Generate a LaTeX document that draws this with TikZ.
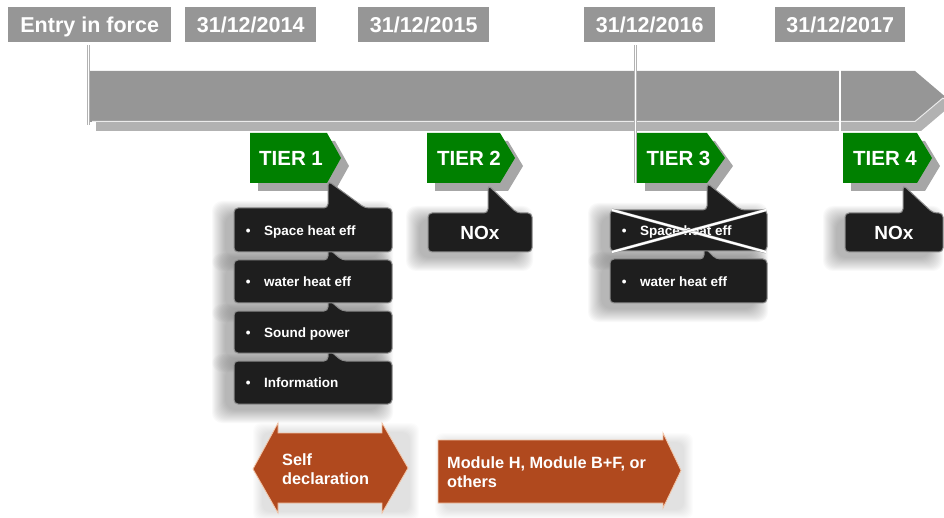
\documentclass[tikz,border=0pt]{standalone}
\usepackage{fontspec}
\setmainfont{Liberation Sans}
\definecolor{tlgray}{HTML}{969696}
\definecolor{tlshadow}{HTML}{B2B2B2}
\definecolor{tiergreen}{HTML}{008000}
\definecolor{tiershadow}{HTML}{A6A6A6}
\definecolor{boxdark}{HTML}{1E1E1E}
\definecolor{boxedge}{HTML}{8C8C8C}
\definecolor{rust}{HTML}{B0491E}
\definecolor{rustedge}{HTML}{F2C4A6}

% blurred shadow: x0 y0 x1 y1 (pixel coordinates)
\newcommand{\softblur}[4]{%
  \foreach \k in {0,...,13}{%
    \fill[black,opacity=0.022,rounded corners=10pt] (#1+\k-13,#2+\k-13) rectangle (#3-\k+13,#4-\k+13);
  }}
\newcommand{\lightblur}[4]{%
  \foreach \k in {0,...,9}{%
    \fill[black,opacity=0.012,rounded corners=8pt] (#1+\k-9,#2+\k-9) rectangle (#3-\k+9,#4-\k+9);
  }}
\newcommand{\tiertagshadow}[3]{%
  \fill[tiershadow] (#1+8,141) -- (#2+8,141) -- (#3+8,166) -- (#2+8,191) -- (#1+8,191) -- cycle;}
\newcommand{\tiertag}[6]{%
  \fill[tiergreen] (#2,133) -- (#3,133) -- (#4,158) -- (#3,183) -- (#2,183) -- cycle;
  \node[tiertext] (#1) at (#5,158) {#6};}
\newcommand{\calloutbox}[7]{%
  \filldraw[boxshape] (#1,#2) -- (#5,#2) -- (#5,#6) -- (#7,#2) -- (#3,#2) -- (#3,#4) -- (#1,#4) -- cycle;}

\begin{document}
\begin{tikzpicture}[x=1pt,y=-1pt,
  datelabel/.style={fill=tlgray,text=white,font=\bfseries\fontsize{21.5}{24}\selectfont,minimum height=35pt,text height=15.4pt,text depth=0pt,inner sep=0pt,anchor=north west},
  tiertext/.style={text=white,font=\bfseries\fontsize{20.5}{24}\selectfont,inner sep=0pt,text height=14.7pt,text depth=0pt},
  boxshape/.style={fill=boxdark,draw=boxedge,line width=1pt,rounded corners=4pt},
  boxtext/.style={text=white,font=\bfseries\fontsize{13.5}{16}\selectfont,inner sep=0pt,anchor=west,text height=9.7pt,text depth=0pt},
  noxtext/.style={text=white,font=\bfseries\fontsize{19}{22}\selectfont,inner sep=0pt,text height=13.6pt,text depth=0pt},
  connline/.style={draw=black!30,line width=0.4pt,double=white,double distance=1.4pt},
  crossline/.style={draw=black!45,line width=0.4pt,double=white,double distance=2.2pt},
  arrowshape/.style={fill=rust,draw=rustedge,line width=0.8pt},
  arrowtext/.style={text=white,font=\bfseries\fontsize{16.3}{19.5}\selectfont,inner sep=0pt,align=left,anchor=north west}
]
\useasboundingbox (0,0) rectangle (944,518);

% date labels
\node[datelabel,minimum width=163pt] (entry) at (8,7) {Entry in force};
\node[datelabel,minimum width=131pt] (d2014) at (185,7) {31/12/2014};
\node[datelabel,minimum width=131pt] (d2015) at (358,7) {31/12/2015};
\node[datelabel,minimum width=131pt] (d2016) at (584,7) {31/12/2016};
\node[datelabel,minimum width=130pt] (d2017) at (775,7) {31/12/2017};

% timeline arrow
\fill[tlshadow] (96,80) -- (921,80) -- (951,105.5) -- (921,131) -- (96,131) -- cycle;
\fill[tlgray] (90,71) -- (915,71) -- (945,96.5) -- (915,122) -- (90,122) -- cycle;
\draw[white!85!gray,line width=1pt] (92,121.5) -- (915,121.5) -- (943,98);

% connectors from the dates (over the timeline)
\coordinate (c0) at (88.5,125);
\coordinate (c3) at (635.5,183);
\coordinate (c4) at (840,200);
\draw[connline] ([yshift=-3pt]entry.south -| c0) -- (c0);
\draw[connline] ([yshift=-3pt]d2016.south -| c3) -- (c3);
\draw[connline] ([yshift=-3pt]d2017.south -| c4) -- (c4);

% tier tag shadows
\tiertagshadow{250}{327}{341}
\tiertagshadow{427}{500}{515}
\tiertagshadow{637}{707}{725}
\tiertagshadow{843}{917}{932}

% box shadows
\softblur{225}{214}{380}{258}
\softblur{225}{266}{380}{309}
\softblur{225}{317}{380}{359}
\softblur{225}{367}{380}{410}
\softblur{419}{219}{520}{258}
\softblur{601}{216}{755}{257}
\softblur{601}{265}{755}{309}
\softblur{836}{219}{930}{258}
% arrow shadows
\lightblur{262}{432}{410}{512}
\lightblur{444}{442}{684}{510}

% tier 1 boxes (bottom first so upper boxes cover the pointers)
\calloutbox{234}{361}{392}{404}{328}{349}{342}
\calloutbox{234}{311}{392}{353}{328}{299}{342}
\calloutbox{234}{260}{392}{303}{328}{248}{342}
\calloutbox{234}{208}{392}{252}{328}{181}{365}
% tier 2 box
\calloutbox{428}{213}{532}{252}{488}{185}{517}
% tier 3 boxes
\calloutbox{610}{259}{767}{303}{704}{247}{716}
\calloutbox{610}{210}{767}{251}{707}{183}{741}
% tier 4 box
\calloutbox{845}{213}{943}{252}{903}{185}{933}

% tier tags
\tiertag{t1}{250}{327}{341}{291}{TIER 1}
\tiertag{t2}{427}{500}{515}{469}{TIER 2}
\tiertag{t3}{637}{707}{725}{678.5}{TIER 3}
\tiertag{t4}{843}{917}{932}{885}{TIER 4}

% box texts
\node[boxtext] (b1) at (245.6,230.5) {\makebox[18.4pt][l]{\textbullet}Space heat eff};
\node[boxtext] (b2) at (245.6,281.5) {\makebox[18.4pt][l]{\textbullet}water heat eff};
\node[boxtext] (b3) at (245.6,332.5) {\makebox[18.4pt][l]{\textbullet}Sound power};
\node[boxtext] (b4) at (245.6,383) {\makebox[18.4pt][l]{\textbullet}Information};
\node[noxtext] (n2) at (480,232.5) {NOx};
\node[boxtext] (b5) at (621.6,231) {\makebox[18.4pt][l]{\textbullet}Space heat eff};
\node[boxtext] (b6) at (621.6,281.5) {\makebox[18.4pt][l]{\textbullet}water heat eff};
\node[noxtext] (n4) at (894,232.5) {NOx};

% cross over the removed requirement
\draw[crossline] (612,210) -- (766,252);
\draw[crossline] (612,252) -- (766,210);

% bottom arrows
\filldraw[arrowshape] (253,469) -- (278,423) -- (278,433) -- (382,433) -- (382,423) -- (408,468) -- (382,513) -- (382,503) -- (278,503) -- (278,513) -- cycle;
\filldraw[arrowshape] (438,440) -- (663,440) -- (663,433) -- (681,470.5) -- (663,508) -- (663,503) -- (438,503) -- cycle;
\node[arrowtext] (selfd) at (282,453) {Self\\declaration};
\node[arrowtext] (modh) at (447,456) {Module H, Module B+F, or\\others};
\end{tikzpicture}
\end{document}
